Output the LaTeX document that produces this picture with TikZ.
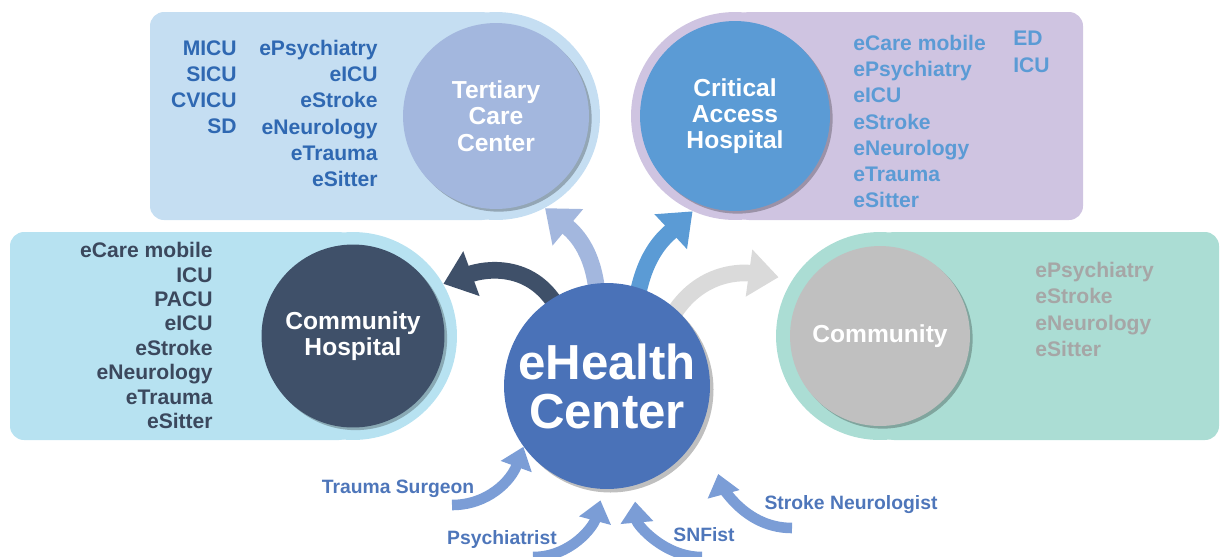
\documentclass[tikz,border=0pt]{standalone}
\usepackage{fontspec}
\setmainfont{Liberation Sans}
\usetikzlibrary{arrows.meta, calc, shadows}

\definecolor{tcPanel}{RGB}{197,222,242}
\definecolor{tcCircle}{RGB}{163,183,222}
\definecolor{tcText}{RGB}{47,104,178}
\definecolor{caPanel}{RGB}{207,196,225}
\definecolor{caCircle}{RGB}{91,155,213}
\definecolor{caText}{RGB}{91,155,213}
\definecolor{chPanel}{RGB}{183,226,241}
\definecolor{chCircle}{RGB}{63,80,105}
\definecolor{chText}{RGB}{59,72,93}
\definecolor{cmPanel}{RGB}{171,221,212}
\definecolor{cmCircle}{RGB}{192,192,192}
\definecolor{cmText}{RGB}{166,166,166}
\definecolor{arrowGray}{RGB}{218,218,218}
\definecolor{hubBlue}{RGB}{74,114,184}
\definecolor{specBlue}{RGB}{123,157,214}
\definecolor{specText}{RGB}{78,118,186}

\pgfdeclarelayer{arrows}
\pgfsetlayers{arrows,main}

\tikzset{
  panel/.style={rounded corners=8pt},
  ring/.style={circle, minimum size=4.16cm, inner sep=0pt},
  site/.style={circle, minimum size=3.72cm, inner sep=0pt, text=white, align=center,
    font=\fontsize{14}{15}\selectfont\bfseries,
    drop shadow={shadow xshift=1.5pt, shadow yshift=-1.5pt, fill=black, opacity=0.25}},
  svclist/.style={inner sep=0pt, font=\fontsize{12}{14.9}\selectfont\bfseries},
  hub/.style={circle, fill=hubBlue, minimum size=4.12cm, inner sep=0pt, text=white, align=center,
    font=\fontsize{28}{28}\selectfont\bfseries,
    drop shadow={shadow xshift=2pt, shadow yshift=-2pt, fill=black, opacity=0.25}},
  outarrow/.style={line width=9.5pt, -{Triangle[length=17pt, width=26pt]}, shorten <=-6pt},
  inarrow/.style={line width=6pt, draw=specBlue, -{Triangle[length=12pt, width=18pt]}},
  spec/.style={inner sep=0pt, anchor=mid, text=specText, font=\fontsize{11}{13}\selectfont\bfseries}
}

\begin{document}
\begin{tikzpicture}[x=0.02cm, y=-0.02cm]
\useasboundingbox (0,0) rectangle (1222,556);

% Tertiary Care Center
\fill[tcPanel, panel] (150,12) rectangle (496,220);
\node[ring, fill=tcPanel] (tcring) at (496,116) {};
\node[site, fill=tcCircle] (tc) at (tcring) {Tertiary\\Care\\Center};
\node[svclist, text=tcText, align=right, anchor=north east] (tcunits) at (237,40) {MICU\\SICU\\CVICU\\SD};
\node[svclist, text=tcText, align=right, anchor=north east] (tcsvc) at (378,40)
  {ePsychiatry\\eICU\\eStroke\\eNeurology\\eTrauma\\eSitter};

% Critical Access Hospital
\fill[caPanel, panel] (735,12) rectangle (1083,220);
\node[ring, fill=caPanel] (caring) at (735,116) {};
\node[site, fill=caCircle, minimum size=3.8cm] (ca) at (caring) {Critical\\Access\\Hospital};
\node[svclist, text=caText, align=left, anchor=north west] (casvc) at (853,35)
  {eCare mobile\\ePsychiatry\\eICU\\eStroke\\eNeurology\\eTrauma\\eSitter};
\node[svclist, text=caText, align=left, anchor=north west] (caunits) at (1013,31) {ED\\ICU};

% Community Hospital
\fill[chPanel, panel] (10,232) rectangle (353,440);
\node[ring, fill=chPanel] (chring) at (353,336) {};
\node[site, fill=chCircle, minimum size=3.66cm] (ch) at (chring) {Community\\Hospital};
\node[svclist, text=chText, align=right, anchor=north east,
  font=\fontsize{12}{13.9}\selectfont\bfseries] (chsvc) at (213,242)
  {eCare mobile\\ICU\\PACU\\eICU\\eStroke\\eNeurology\\eTrauma\\eSitter};

% Community
\fill[cmPanel, panel] (880,232) rectangle (1219,440);
\node[ring, fill=cmPanel] (cmring) at (880,336) {};
\node[site, fill=cmCircle, minimum size=3.6cm] (cm) at (cmring) {Community};
\node[svclist, text=cmText, align=left, anchor=north west] (cmsvc) at (1035,262)
  {ePsychiatry\\eStroke\\eNeurology\\eSitter};

% eHealth Center
\node[hub] (hub) at (607,386) {eHealth\\Center};

\begin{pgfonlayer}{arrows}
\draw[outarrow, chCircle] (hub.122) to[out=120, in=20] (chring.30);
\draw[outarrow, tcCircle] (hub.96) to[out=95, in=-40] (tcring.-62);
\draw[outarrow, caCircle] (hub.72) to[out=80, in=-137] (caring.-114);
\draw[outarrow, arrowGray, shorten >=8pt] (hub.48) to[out=60, in=172] (cmring.147);
\end{pgfonlayer}

% specialists
\coordinate (traumaTail) at (452,505);
\coordinate (psychTail) at (533,557);
\coordinate (snfTail) at (702,557);
\coordinate (strokeTail) at (792,528);
\draw[inarrow] (traumaTail) to[out=0, in=250] (hub.216);
\draw[inarrow, shorten >=6.5pt] (psychTail) to[out=0, in=255] (hub.268);
\draw[inarrow, shorten >=9pt] (snfTail) to[out=180, in=-85] (hub.-75);
\draw[inarrow, shorten >=31pt] (strokeTail) to[out=180, in=-75] (hub.-20);
\node[spec] (traumaLbl) at (398,489) {Trauma Surgeon};
\node[spec] (psychLbl) at (502,540) {Psychiatrist};
\node[spec] (snfLbl) at (704,537) {SNFist};
\node[spec] (strokeLbl) at (851,505) {Stroke Neurologist};
\end{tikzpicture}
\end{document}
